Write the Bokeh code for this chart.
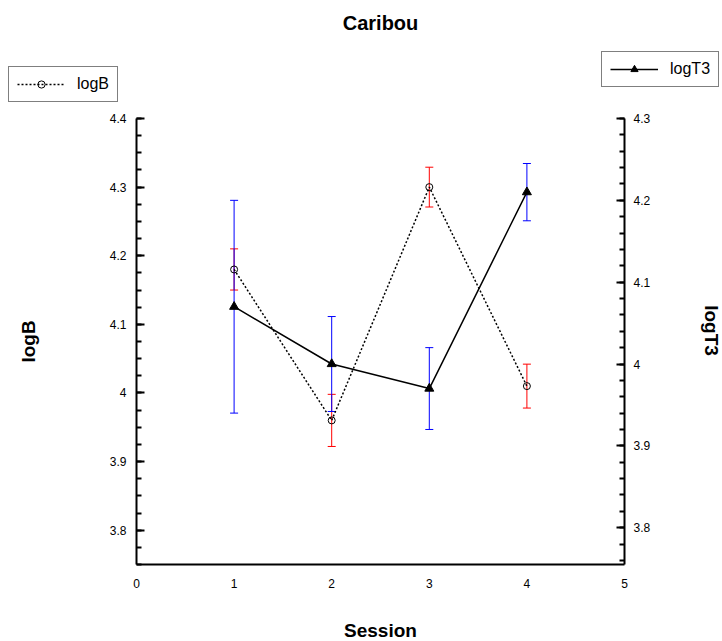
import numpy as np
from bokeh.plotting import figure
from bokeh.layouts import column, row
from bokeh.models import (Range1d, LinearAxis, FixedTicker, Whisker, TeeHead, ColumnDataSource,
                          Legend, LegendItem, CustomJSTickFormatter, Label)
from bokeh.embed import file_html
from bokeh.resources import INLINE

# ---- data ----
title_text = "Caribou"
x_label = "Session"
left_label = "logB"
right_label = "logT3"
sessions = [1, 2, 3, 4]
logB = [4.18, 3.96, 4.30, 4.01]
logB_err = [0.03, 0.038, 0.029, 0.032]
logT3 = [4.07, 4.00, 3.97, 4.21]
logT3_err = [0.13, 0.058, 0.05, 0.035]
x_ticks = [0, 1, 2, 3, 4, 5]
left_ticks = [3.8, 3.9, 4.0, 4.1, 4.2, 4.3, 4.4]
right_ticks = [3.8, 3.9, 4.0, 4.1, 4.2, 4.3]

FONT = "Liberation Sans"

def bare(w, h):
    f = figure(width=w, height=h, output_backend="svg", toolbar_location=None,
               x_range=Range1d(0, w), y_range=Range1d(0, h),
               x_axis_location=None, y_axis_location=None, min_border=0)
    f.grid.visible = False
    f.outline_line_color = None
    return f

# ---------------- main plot ----------------
p = figure(width=660, height=490, output_backend="svg", toolbar_location=None,
           x_range=Range1d(0, 5), y_range=Range1d(3.75, 4.4),
           min_border_left=136, min_border_right=36, min_border_top=8, min_border_bottom=36)
p.extra_y_ranges = {"right": Range1d(3.755, 4.3)}
p.grid.visible = False
p.outline_line_color = None

fmt = CustomJSTickFormatter(code="return String(parseFloat(tick.toFixed(3)))")

def style_axis(ax):
    ax.axis_label_text_font = FONT
    ax.axis_label_text_font_size = "19px"
    ax.axis_label_text_font_style = "bold"
    ax.axis_label_text_color = "black"
    ax.major_label_text_font = FONT
    ax.major_label_text_font_size = "12px"
    ax.major_label_text_color = "black"
    ax.axis_line_width = 2
    ax.axis_line_color = "black"
    ax.major_tick_line_width = 2
    ax.minor_tick_line_width = 2
    ax.major_tick_line_color = "black"
    ax.minor_tick_line_color = "black"
    ax.formatter = fmt

xa = p.xaxis[0]
style_axis(xa)
xa.ticker = FixedTicker(ticks=x_ticks, minor_ticks=[])
xa.major_tick_in = 0
xa.major_tick_out = 0
xa.minor_tick_in = 0
xa.minor_tick_out = 0
xa.major_label_standoff = 14

ya = p.yaxis[0]
style_axis(ya)
ya.axis_label = left_label
ya.ticker = FixedTicker(ticks=left_ticks, minor_ticks=list(np.round(np.arange(3.75, 4.4001, 0.025), 3)))
ya.major_tick_in = 8
ya.major_tick_out = 0
ya.minor_tick_in = 5
ya.minor_tick_out = 0
ya.major_label_standoff = 10
ya.axis_label_standoff = 68

ra = LinearAxis(y_range_name="right")
style_axis(ra)
ra.ticker = FixedTicker(ticks=right_ticks, minor_ticks=list(np.round(np.arange(3.76, 4.3001, 0.02), 3)))
ra.major_tick_in = 8
ra.major_tick_out = 0
ra.minor_tick_in = 5
ra.minor_tick_out = 0
ra.major_label_standoff = 9
p.add_layout(ra, "right")

srcB = ColumnDataSource(dict(x=sessions, y=logB,
                             lo=[v - e for v, e in zip(logB, logB_err)],
                             hi=[v + e for v, e in zip(logB, logB_err)]))
srcT = ColumnDataSource(dict(x=sessions, y=logT3,
                             lo=[v - e for v, e in zip(logT3, logT3_err)],
                             hi=[v + e for v, e in zip(logT3, logT3_err)]))

wB = Whisker(source=srcB, base="x", lower="lo", upper="hi", line_color="red", line_width=1,
             upper_head=TeeHead(size=8, line_color="red", line_width=1),
             lower_head=TeeHead(size=8, line_color="red", line_width=1))
wT = Whisker(source=srcT, base="x", lower="lo", upper="hi", line_color="blue", line_width=1,
             y_range_name="right",
             upper_head=TeeHead(size=8, line_color="blue", line_width=1),
             lower_head=TeeHead(size=8, line_color="blue", line_width=1))
p.add_layout(wB)
p.add_layout(wT)

B_line = dict(line_color="black", line_width=1.5, line_dash="2 2")
B_mark = dict(marker="circle", size=7, fill_color=None, line_color="black", line_width=1)
T_line = dict(line_color="black", line_width=1.5)
T_mark = dict(marker="triangle", size=9, fill_color="black", line_color="black")

p.line("x", "y", source=srcB, **B_line)
p.scatter("x", "y", source=srcB, **B_mark)
p.line("x", "y", source=srcT, y_range_name="right", **T_line)
p.scatter("x", "y", source=srcT, y_range_name="right", **T_mark)

# ---------------- header: title + legends ----------------
hdr = bare(722, 110)
hdr.extra_y_ranges = {"off": Range1d(-1000, -900)}   # keeps the legend proxies off-canvas
hdr.add_layout(Label(x=380, y=88, x_units="screen", y_units="screen", text=title_text,
                     text_font=FONT, text_font_size="20px", text_font_style="bold",
                     text_color="black", text_align="center", text_baseline="middle"))
hB_l = hdr.line("x", "y", source=srcB, y_range_name="off", **B_line)
hB_m = hdr.scatter("x", "y", source=srcB, y_range_name="off", **B_mark)
hT_l = hdr.line("x", "y", source=srcT, y_range_name="off", **T_line)
hT_m = hdr.scatter("x", "y", source=srcT, y_range_name="off", **T_mark)

def make_legend(label, rends, loc):
    lg = Legend(items=[LegendItem(label=label, renderers=rends)], location=loc)
    lg.border_line_color = "black"
    lg.border_line_width = 1
    lg.background_fill_color = "white"
    lg.background_fill_alpha = 1
    lg.label_text_font = FONT
    lg.label_text_font_size = "16px"
    lg.label_text_color = "black"
    lg.glyph_width = 48
    lg.glyph_height = 18
    lg.label_standoff = 12
    lg.padding = 8
    lg.margin = 0
    lg.spacing = 0
    return lg

hdr.add_layout(make_legend(left_label, [hB_l, hB_m], (8, 8)), "center")
hdr.add_layout(make_legend(right_label, [hT_l, hT_m], (601, 23)), "center")

# ---------------- side: right axis label ----------------
side = bare(62, 490)
side.add_layout(Label(x=51, y=234, x_units="screen", y_units="screen", text=right_label,
                      angle=-np.pi / 2, text_font=FONT, text_font_size="19px",
                      text_font_style="bold", text_color="black",
                      text_align="center", text_baseline="middle"))

# ---------------- footer: x axis label ----------------
ftr = bare(722, 41)
ftr.add_layout(Label(x=380, y=11, x_units="screen", y_units="screen", text=x_label,
                     text_font=FONT, text_font_size="19px", text_font_style="bold",
                     text_color="black", text_align="center", text_baseline="middle"))

layout = column(hdr, row(p, side, spacing=0), ftr, spacing=0)
open("out.html", "w").write(file_html(layout, INLINE))
